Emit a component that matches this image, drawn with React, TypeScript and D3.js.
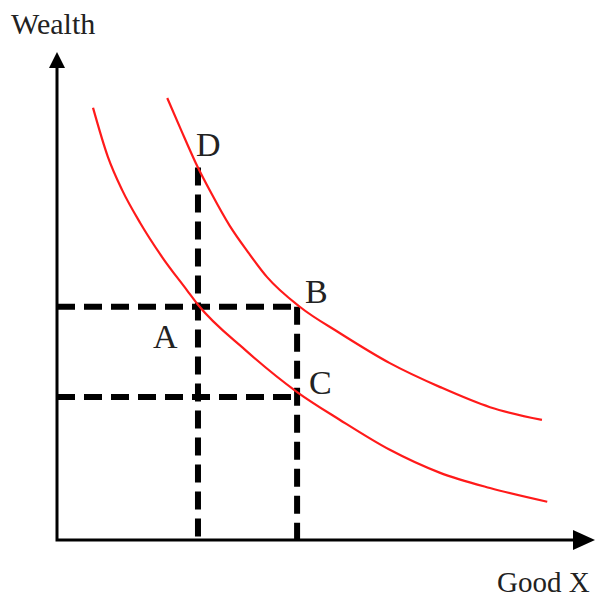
import React, { useEffect, useRef } from "react";
import * as d3 from "d3";

// indifference curves (good X vs wealth, 0-100 units)
const innerX = [6.8, 9.6, 12.3, 15.7, 19.8, 24.5, 26.6, 35.5, 45.3, 53.4, 62.8, 72.3, 81.7, 92.5];
const innerY = [88.2, 78.2, 71.4, 64.7, 57.8, 51.0, 48.0, 38.8, 30.2, 24.5, 18.4, 13.7, 10.6, 7.8];
const outerX = [20.8, 23.4, 26.2, 29.2, 32.6, 36.0, 39.6, 45.8, 53.4, 62.8, 72.3, 81.7, 91.5];
const outerY = [90.2, 83.7, 76.9, 70.6, 64.1, 58.8, 53.7, 47.6, 42.2, 36.1, 31.2, 27.1, 24.5];

// bundles
const pointNames = ["A", "B", "C", "D"];
const pointX = [26.6, 45.3, 45.3, 26.6];
const pointY = [47.6, 47.6, 29.2, 76.0];

const xLabel = "Good X";
const yLabel = "Wealth";

export default function App() {
  const ref = useRef<SVGSVGElement>(null);

  useEffect(() => {
    const svg = d3.select(ref.current);
    svg.selectAll("*").remove();

    const x = d3.scaleLinear().domain([0, 100]).range([57, 587]);
    const y = d3.scaleLinear().domain([0, 100]).range([540, 50]);

    const line = d3
      .line<[number, number]>()
      .x((d) => x(d[0]))
      .y((d) => y(d[1]))
      .curve(d3.curveMonotoneX);

    // dashed guide lines
    const guides = svg.append("g").attr("stroke", "#000").attr("stroke-width", 6).attr("stroke-dasharray", "18,9");
    const [ax, bx, cx, dx] = pointX;
    const [ay, by, cy, dy] = pointY;
    guides.append("line").attr("x1", x(0)).attr("x2", x(bx)).attr("y1", y(ay)).attr("y2", y(by));
    guides.append("line").attr("x1", x(0)).attr("x2", x(cx)).attr("y1", y(cy)).attr("y2", y(cy));
    guides.append("line").attr("x1", x(dx)).attr("x2", x(dx)).attr("y1", y(dy)).attr("y2", y(0));
    guides.append("line").attr("x1", x(bx)).attr("x2", x(bx)).attr("y1", y(by)).attr("y2", y(0));

    // curves
    const curves = [
      d3.zip(innerX, innerY) as [number, number][],
      d3.zip(outerX, outerY) as [number, number][],
    ];
    svg
      .append("g")
      .selectAll("path")
      .data(curves)
      .join("path")
      .attr("d", (d) => line(d))
      .attr("fill", "none")
      .attr("stroke", "#ff1a1a")
      .attr("stroke-width", 2.2);

    // axes with arrows
    const x0 = x(0), y0 = y(0);
    const xEnd = x(100) + 8, yEnd = y(100) + 2;
    svg.append("path")
      .attr("d", `M${x0},${y0 + 1.5}V${yEnd + 10}M${x0 - 1.5},${y0}H${xEnd - 12}`)
      .attr("stroke", "#000").attr("stroke-width", 3).attr("fill", "none");
    svg.append("path")
      .attr("d", `M${x0},${yEnd}L${x0 - 8},${yEnd + 16}L${x0 + 8},${yEnd + 16}Z`)
      .attr("fill", "#000");
    svg.append("path")
      .attr("d", `M${xEnd},${y0}L${xEnd - 22},${y0 - 10}L${xEnd - 22},${y0 + 10}Z`)
      .attr("fill", "#000");

    const font = "'Liberation Serif', 'Times New Roman', serif";
    svg.append("text").attr("x", 11).attr("y", 34).text(yLabel)
      .attr("font-family", font).attr("font-size", 30).attr("fill", "#222");
    svg.append("text").attr("x", 497).attr("y", 592).text(xLabel)
      .attr("font-family", font).attr("font-size", 29).attr("fill", "#222");

    // point labels
    const offsets: Record<string, [number, number]> = {
      A: [-45, 41],
      B: [8, -4],
      C: [12, -3],
      D: [-2, -12],
    };
    svg
      .append("g")
      .selectAll("text")
      .data(pointNames)
      .join("text")
      .attr("x", (d, i) => x(pointX[i]) + offsets[d][0])
      .attr("y", (d, i) => y(pointY[i]) + offsets[d][1])
      .attr("font-family", font)
      .attr("font-size", 34)
      .attr("fill", "#222")
      .text((d) => d);
  }, []);

  return (
    <svg
      ref={ref}
      width={603}
      height={597}
      style={{ position: "absolute", left: 0, top: 0, background: "#fff" }}
    />
  );
}
